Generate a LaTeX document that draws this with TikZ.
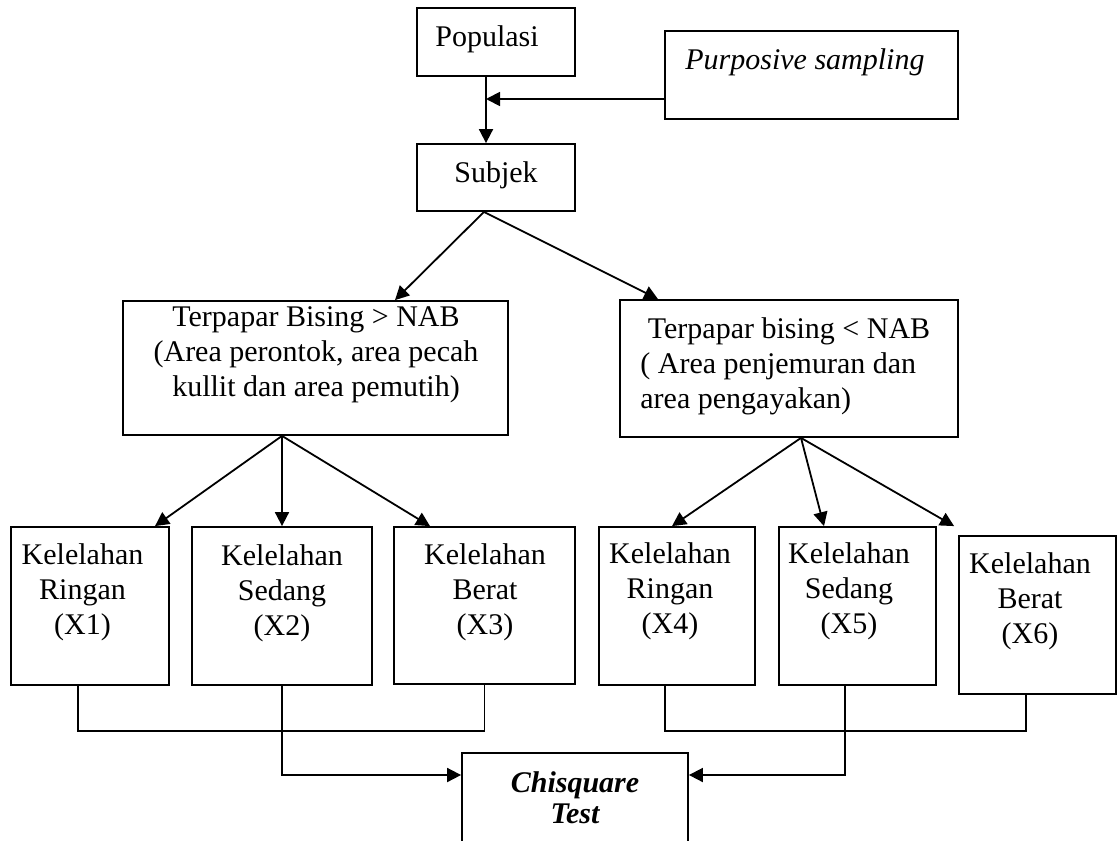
\documentclass[tikz,border=0pt]{standalone}
\usepackage{fontspec}
\setmainfont{Liberation Serif}
\usetikzlibrary{arrows.meta,fit}
\begin{document}
\begin{tikzpicture}[x=0.5pt,y=-0.5pt,
  box/.style={draw, line width=0.9pt, inner sep=0pt},
  txt/.style={inner sep=0pt, font=\fontsize{15}{17.5}\selectfont},
  arr/.style={line width=0.9pt, -{Triangle[length=7pt,width=7pt]}},
  ln/.style={line width=0.9pt},
  ]
\clip (0,0) rectangle (1117,840);
% top
\node[box, fit={(417,8)(575,76)}] (pop) {};
\node[txt, anchor=base] (popt) at (487,47) {Populasi};
\node[box, fit={(665,31)(958,119)}] (pur) {};
\node[txt, anchor=base west, font=\fontsize{15}{17.5}\selectfont\itshape] (purt) at (685,70) {Purposive sampling};
\node[box, fit={(417,144)(575,211)}] (sub) {};
\node[txt, anchor=base] (subt) at (496,182) {Subjek};
\coordinate (ax) at (486,0);
\coordinate (hy) at (0,99);
\draw[arr] (pop.south -| ax) -- (sub.north -| ax);
\draw[arr] (pur.west |- hy) -- (ax |- hy);
% middle
\node[box, fit={(123,301)(508,435)}] (L) {};
\node[txt, align=center, anchor=north] (Lt) at (316,306) {Terpapar Bising > NAB\\(Area perontok, area pecah\\kullit dan area pemutih)};
\node[box, fit={(620,300)(958,437)}] (R) {};
\node[txt, align=left, anchor=north west] (Rt) at (640,317) {\ Terpapar bising < NAB\\( Area penjemuran dan\\area pengayakan)};
\coordinate (subo) at ([shift={(-12,0)}]sub.south);
\draw[arr] (subo) -- ([shift={(79.5,0)}]L.north);
\draw[arr] (subo) -- ([shift={(-131,0)}]R.north);
% bottom row
\node[box, fit={(11,527)(169,685)}] (X1) {};
\node[box, fit={(192,527)(372,685)}] (X2) {};
\node[box, fit={(394,527)(575,684)}] (X3) {};
\node[box, fit={(599,527)(755,685)}] (X4) {};
\node[box, fit={(779,527)(936,685)}] (X5) {};
\node[box, fit={(959,536)(1116,694)}] (X6) {};
\node[txt, align=center, anchor=north] (X1t) at (82.5,543) {Kelelahan\\Ringan\\(X1)};
\node[txt, align=center, anchor=north] (X2t) at (282,544) {Kelelahan\\Sedang\\(X2)};
\node[txt, align=center, anchor=north] (X3t) at (485,543) {Kelelahan\\Berat\\(X3)};
\node[txt, align=center, anchor=north] (X4t) at (670,542) {Kelelahan\\Ringan\\(X4)};
\node[txt, align=center, anchor=north] (X5t) at (849,542) {Kelelahan\\Sedang\\(X5)};
\node[txt, align=center, anchor=north] (X6t) at (1030,552) {Kelelahan\\Berat\\(X6)};
\coordinate (Lo) at ([shift={(-33.5,0)}]L.south);
\coordinate (Ro) at ([shift={(12,0)}]R.south);
\draw[arr] (Lo) -- ([shift={(65,0)}]X1.north);
\draw[arr] (Lo) -- (X2.north);
\draw[arr] (Lo) -- ([shift={(-54.5,0)}]X3.north);
\draw[arr] (Ro) -- ([shift={(-5,0)}]X4.north);
\draw[arr] (Ro) -- ([shift={(-33.5,0)}]X5.north);
\draw[arr] (Ro) -- ([shift={(-4,-9)}]X6.north west);
% chisquare
\node[box, fit={(462,753)(688,880)}] (chi) {};
\node[txt, align=center, anchor=north, font=\fontsize{15}{15.5}\selectfont\bfseries\itshape] (chit) at (575,771) {Chisquare\\Test};
\coordinate (cy) at (0,775);
\draw[ln] ([shift={(-12,0)}]X1.south) -- ++(0,45) -| (X3.south);
\draw[arr] (X2.south) |- (chi.west |- cy);
\draw[ln] ([shift={(-12,0)}]X4.south) -- ++(0,45) -| ([shift={(-11.5,0)}]X6.south);
\draw[arr] ([shift={(-12.5,0)}]X5.south) |- (chi.east |- cy);
\end{tikzpicture}
\end{document}
